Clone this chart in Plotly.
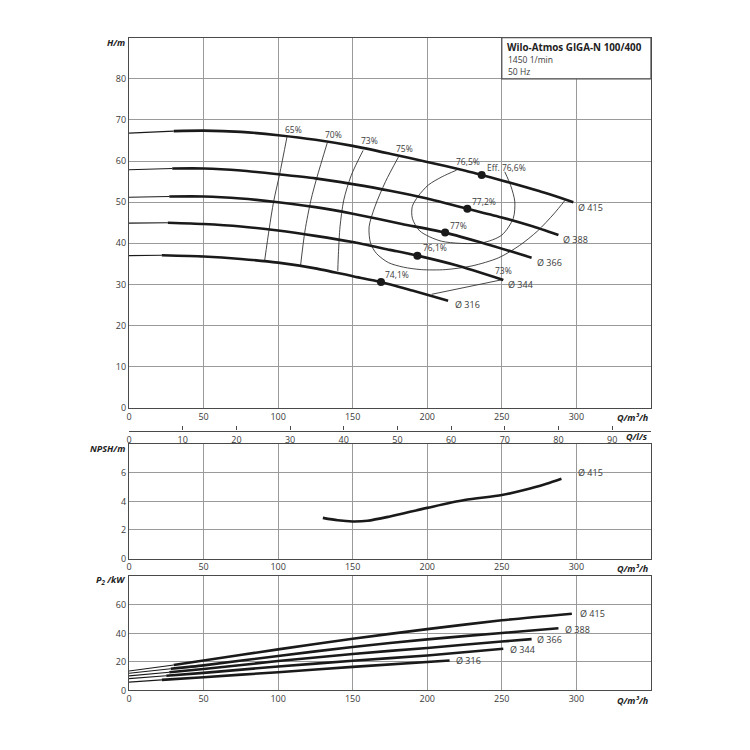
import plotly.graph_objects as go

# ---------------- data ----------------
# Head curves H(Q)  (Q in m3/h, H in m). First segment (idx 0-1) is the thin part.
Q415 = [0, 30, 50, 75, 100, 125, 150, 175, 200, 225, 236.5, 250, 275, 298]
H415 = [66.8, 67.3, 67.4, 67.1, 66.3, 65.2, 63.7, 61.8, 59.8, 57.7, 56.6, 55.3, 52.7, 50.0]
Q388 = [0, 29, 50, 75, 100, 125, 150, 175, 200, 227, 250, 270, 288]
H388 = [57.9, 58.2, 58.2, 57.7, 56.8, 55.8, 54.4, 52.8, 50.9, 48.4, 46.3, 44.2, 42.0]
Q366 = [0, 27, 50, 75, 100, 125, 150, 183, 212, 240, 270]
H366 = [51.2, 51.4, 51.4, 50.9, 50.0, 48.8, 47.2, 44.7, 42.6, 39.8, 36.5]
Q344 = [0, 26, 50, 75, 100, 125, 150, 175, 193.4, 220, 251]
H344 = [44.9, 45.0, 44.7, 44.1, 43.1, 41.8, 40.3, 38.4, 37.0, 34.6, 31.1]
Q316 = [0, 22, 50, 75, 100, 125, 150, 169, 190, 214]
H316 = [37.0, 37.1, 36.8, 36.2, 35.3, 33.9, 32.0, 30.6, 28.5, 26.0]
diam_labels = ["Ø 415", "Ø 388", "Ø 366", "Ø 344", "Ø 316"]

# Best efficiency points
bep_Q = [236.5, 226.9, 212, 193.4, 169]
bep_H = [56.6, 48.4, 42.6, 37.0, 30.6]

# Iso-efficiency lines
eff65_Q = [106, 101, 97, 94, 91]
eff65_H = [66.0, 56.8, 50.2, 43.5, 35.9]
eff70_Q = [133, 126, 122, 118, 115]
eff70_H = [64.5, 56.0, 50.5, 43.0, 34.5]
eff73a_Q = [157, 149, 144, 141.5, 140.5, 140]
eff73a_H = [62.6, 56.5, 50.5, 44.0, 38.0, 33.3]
eff75_Q = [180.7, 172, 165, 161, 162, 166, 174, 184, 196, 212, 230, 248, 262, 274, 285, 292.5]
eff75_H = [61.0, 55.0, 49.0, 44.0, 40.0, 37.5, 35.3, 34.2, 33.6, 33.6, 34.5, 36.5, 39.5, 43.0, 47.2, 50.5]
eff765_Q = [219.7, 210, 200.8, 194, 190, 190, 195, 209.7, 236.5, 250, 257.7, 258.7, 256, 252]
eff765_H = [57.8, 56.2, 54.2, 51.5, 49.0, 46.1, 43.0, 40.5, 40.1, 42.0, 46.1, 50.2, 54.0, 57.4]
eff73b_Q = [203, 251]
eff73b_H = [27.6, 31.2]

# NPSH curve (Ø 415)
npsh_Q = [130, 140, 150, 160, 175, 200, 225, 250, 265, 280, 290]
npsh_V = [2.85, 2.68, 2.60, 2.65, 2.95, 3.55, 4.10, 4.45, 4.80, 5.25, 5.60]

# Power curves P2(Q) (kW). First segment (idx 0-1) is the thin part.
P_Q415 = [0, 30, 50, 100, 150, 200, 250, 297]
P_415 = [13.6, 17.8, 21.0, 28.8, 36.2, 43.0, 49.2, 53.8]
P_Q388 = [0, 28, 50, 100, 150, 200, 250, 288]
P_388 = [12.0, 15.2, 17.6, 24.2, 30.5, 35.8, 40.3, 43.6]
P_Q366 = [0, 27, 50, 100, 150, 200, 250, 270]
P_366 = [10.2, 12.8, 15.0, 20.6, 25.6, 29.8, 34.3, 36.0]
P_Q344 = [0, 25, 50, 100, 150, 200, 251]
P_344 = [8.3, 10.3, 12.3, 16.8, 20.8, 24.5, 29.2]
P_Q316 = [0, 22, 50, 100, 150, 215]
P_316 = [5.8, 7.4, 9.3, 12.8, 16.5, 21.0]

q_ticks = [0, 50, 100, 150, 200, 250, 300]
ls_ticks = [0, 10, 20, 30, 40, 50, 60, 70, 80, 90]
h_ticks = [0, 10, 20, 30, 40, 50, 60, 70, 80]
npsh_ticks = [0, 2, 4, 6]
p_ticks = [0, 20, 40, 60]

# ---------------- figure ----------------
OFF = 8  # page body margin in the browser
W, Hpx = 742, 742
def fx(p): return (p - OFF) / W
def fy(p): return 1 - (p - OFF) / Hpx

X0, X1 = 126.5, 650.5
INK = "#1a1a1a"
TXT = "#3a3a3a"
FONT = "Open Sans"

fig = go.Figure()

def curve(q, v, xa, ya):
    fig.add_trace(go.Scatter(x=q[:2], y=v[:2], mode="lines", xaxis=xa, yaxis=ya,
                             line=dict(color=INK, width=1.1), hoverinfo="skip"))
    fig.add_trace(go.Scatter(x=q[1:], y=v[1:], mode="lines", xaxis=xa, yaxis=ya,
                             line=dict(color=INK, width=2.6, shape="spline", smoothing=0.6),
                             hoverinfo="skip"))

def thin(q, v, xa="x", ya="y"):
    fig.add_trace(go.Scatter(x=q, y=v, mode="lines", xaxis=xa, yaxis=ya,
                             line=dict(color="#333", width=0.9, shape="spline", smoothing=0.8),
                             hoverinfo="skip"))

# iso efficiency lines
for q, v in [(eff65_Q, eff65_H), (eff70_Q, eff70_H), (eff73a_Q, eff73a_H),
             (eff75_Q, eff75_H), (eff765_Q, eff765_H), (eff73b_Q, eff73b_H)]:
    thin(q, v)

for q, v in [(Q415, H415), (Q388, H388), (Q366, H366), (Q344, H344), (Q316, H316)]:
    curve(q, v, "x", "y")

fig.add_trace(go.Scatter(x=bep_Q, y=bep_H, mode="markers", xaxis="x", yaxis="y",
                         marker=dict(color=INK, size=8), hoverinfo="skip"))

# NPSH
fig.add_trace(go.Scatter(x=npsh_Q, y=npsh_V, mode="lines", xaxis="x2", yaxis="y2",
                         line=dict(color=INK, width=2.6, shape="spline", smoothing=0.8),
                         hoverinfo="skip"))

# Power
for q, v in [(P_Q415, P_415), (P_Q388, P_388), (P_Q366, P_366), (P_Q344, P_344), (P_Q316, P_316)]:
    curve(q, v, "x3", "y3")

# helper trace for the l/s axis
fig.add_trace(go.Scatter(x=[None], y=[None], xaxis="x4", yaxis="y", showlegend=False,
                         hoverinfo="skip"))

axis_common = dict(showline=True, mirror=True, linecolor="#4a4a4a", linewidth=1.3,
                   gridcolor="#9a9a9a", gridwidth=0.8, zeroline=False, ticks="",
                   tickfont=dict(family=FONT, size=9, color=TXT), fixedrange=True)

dom_x = [fx(X0), fx(X1)]
fig.update_layout(
    width=W, height=Hpx, margin=dict(l=0, r=0, t=0, b=0),
    paper_bgcolor="white", plot_bgcolor="white", showlegend=False,
    font=dict(family=FONT, size=9, color=TXT),
    xaxis=dict(domain=dom_x, anchor="y", range=[0, 350], tickvals=q_ticks, **axis_common),
    yaxis=dict(domain=[fy(411), fy(38)], anchor="x", range=[0, 90], tickvals=h_ticks, **axis_common),
    xaxis2=dict(domain=dom_x, anchor="y2", range=[0, 350], tickvals=q_ticks, **axis_common),
    yaxis2=dict(domain=[fy(563), fy(448)], anchor="x2", range=[0, 8], tickvals=npsh_ticks, **axis_common),
    xaxis3=dict(domain=dom_x, anchor="y3", range=[0, 350], tickvals=q_ticks, **axis_common),
    yaxis3=dict(domain=[fy(696), fy(581)], anchor="x3", range=[0, 80], tickvals=p_ticks, **axis_common),
    xaxis4=dict(overlaying="x", anchor="free", position=fy(434), side="bottom",
                range=[0, 350 / 3.6], tickvals=ls_ticks, ticks="inside", ticklen=4,
                tickcolor="#4a4a4a", showgrid=False, showline=True, linecolor="#4a4a4a",
                linewidth=1.3, zeroline=False,
                tickfont=dict(family=FONT, size=9, color=TXT), fixedrange=True),
)

# title box
fig.add_shape(type="rect", xref="x", yref="y", x0=250, x1=350, y0=80, y1=90,
              fillcolor="white", line=dict(color="#4a4a4a", width=1.2), layer="above")

ann = []
def A(text, x, y, xref="x", yref="y", xanchor="center", size=9, color=TXT, bold=False, italic=False):
    t = text
    if bold:
        t = "<b>" + t + "</b>"
    if italic:
        t = "<i>" + t + "</i>"
    ann.append(dict(text=t, x=x, y=y, xref=xref, yref=yref, xanchor=xanchor, yanchor="middle",
                    showarrow=False, font=dict(family=FONT, size=size, color=color)))

A("Wilo-Atmos GIGA-N 100/400", fx(504), fy(48), "paper", "paper", "left", 9.8, "#222", bold=True)
A("1450 1/min", fx(505), fy(60), "paper", "paper", "left", 8.5)
A("50 Hz", fx(505), fy(72), "paper", "paper", "left", 8.5)

# axis labels
A("H/m", fx(124), fy(43), "paper", "paper", "right", 9, "#222", bold=True, italic=True)
A("NPSH/m", fx(124), fy(452), "paper", "paper", "right", 9, "#222", bold=True, italic=True)
A("P<sub>2</sub> /kW", fx(124), fy(585), "paper", "paper", "right", 9, "#222", bold=True, italic=True)
A("Q/m³/h", fx(650), fy(421), "paper", "paper", "right", 9, "#222", bold=True, italic=True)
A("Q/l/s", fx(650), fy(440), "paper", "paper", "right", 9, "#222", bold=True, italic=True)
A("Q/m³/h", fx(650), fy(573), "paper", "paper", "right", 9, "#222", bold=True, italic=True)
A("Q/m³/h", fx(650), fy(706), "paper", "paper", "right", 9, "#222", bold=True, italic=True)

# efficiency labels
for t, x, y in [("65%", 110, 67.6), ("70%", 136.8, 66.4), ("73%", 161, 65.0), ("75%", 185, 63.0),
                ("76,5%", 227, 59.9), ("77,2%", 238, 50.2), ("77%", 221, 44.4),
                ("76,1%", 205, 38.9), ("74,1%", 180, 32.4), ("73%", 251, 33.3)]:
    A(t, x, y, size=8.5)
A("Eff. 76,6%", 239, 58.5, xanchor="left", size=8.5)

# diameter labels
for t, x, y in zip(diam_labels, [299.5, 290, 272, 253, 217], [48.8, 41.0, 35.3, 30.0, 25.1]):
    A(t, x, y, xanchor="left", size=9)
A("Ø 415", 300, 6.0, "x2", "y2", "left", 9)
for t, x, y in zip(diam_labels, [301, 291, 272.6, 254, 217.7], [53.8, 42.8, 35.9, 29.0, 20.7]):
    A(t, x, y, "x3", "y3", "left", 9)

fig.update_layout(annotations=ann)
fig.write_html("out.html")
